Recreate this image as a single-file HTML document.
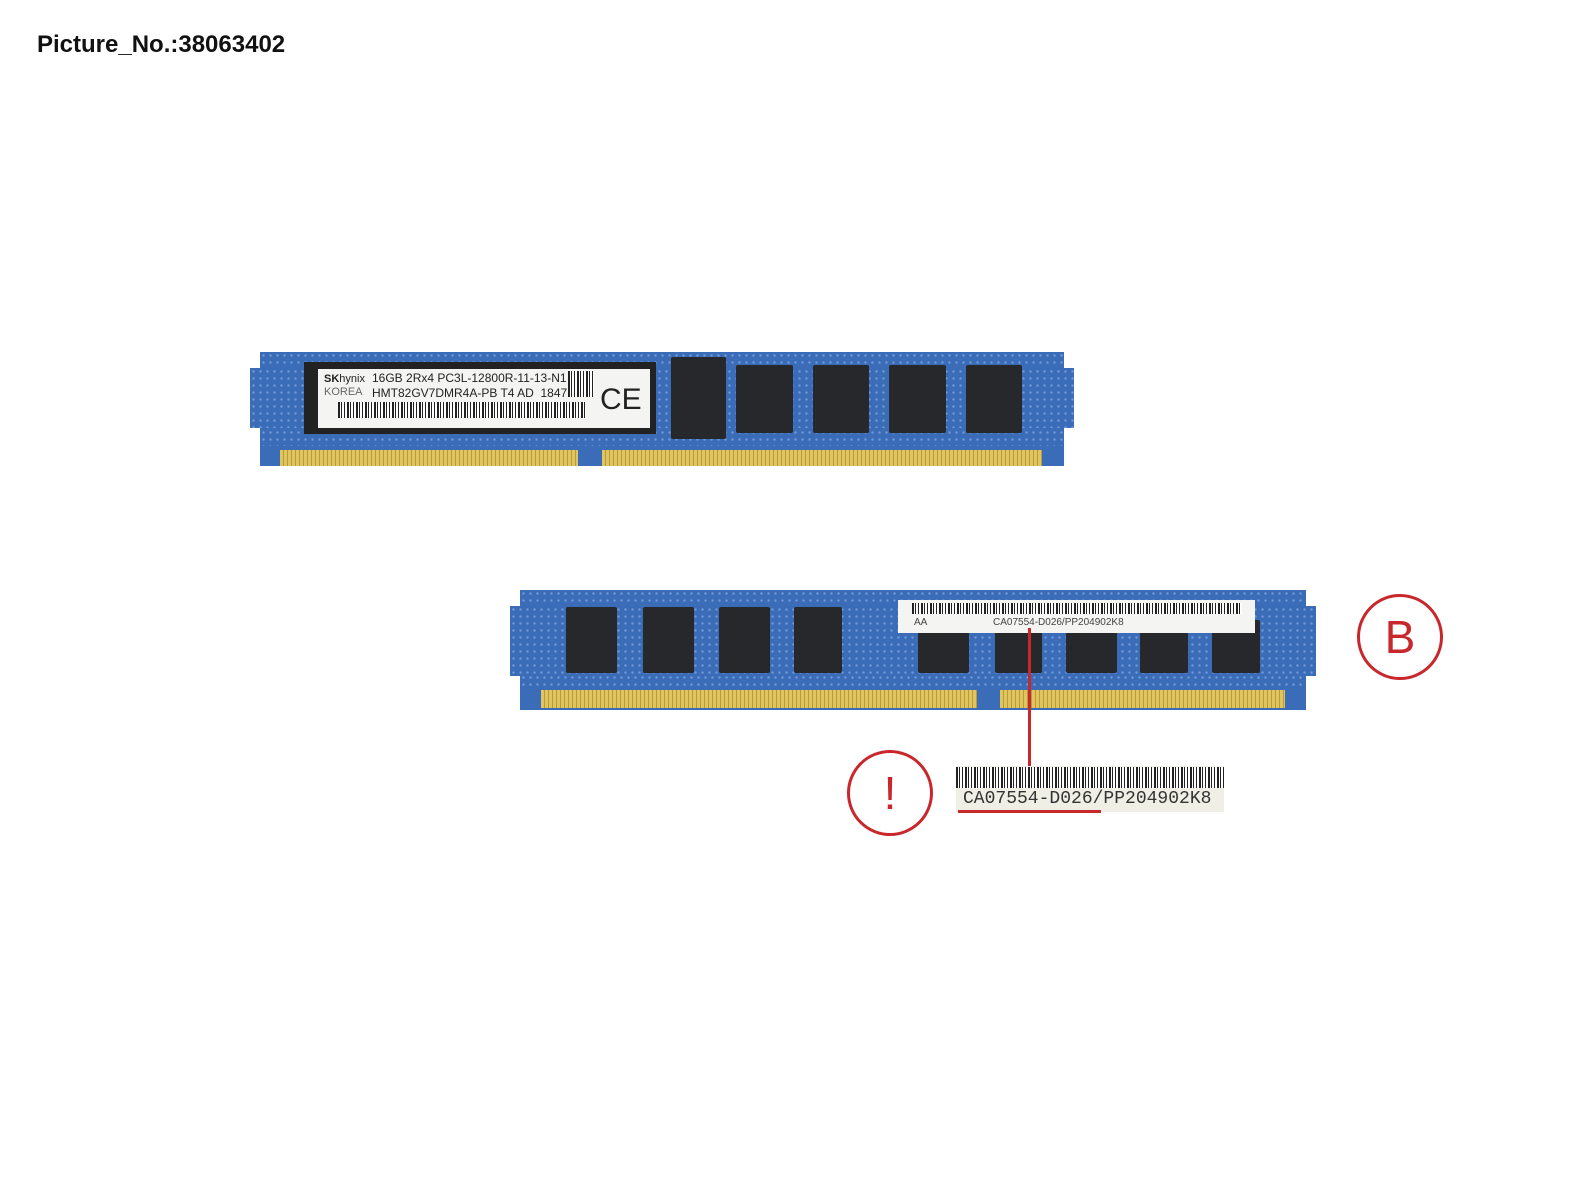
<!DOCTYPE html>
<html><head><meta charset="utf-8"><style>
body{margin:0;width:1596px;height:1198px;background:#fff;position:relative;overflow:hidden;font-family:"Liberation Sans",sans-serif}
.a{position:absolute;white-space:nowrap}
.pcb{background:#3b6cb8;background-image:radial-gradient(#6d97d6 1px,transparent 1.5px);background-size:7px 7px}
.chip{position:absolute;background:#26282b;border-radius:2px}
.gold{position:absolute;background:repeating-linear-gradient(90deg,#e0c460 0 3px,#b89c3c 3px 4px)}
.bar{background:repeating-linear-gradient(90deg,#222 0 2px,#fff 2px 3px,#222 3px 4px,#fff 4px 6px,#222 6px 7px,#fff 7px 9px)}
.circ{position:absolute;border:3px solid #c8282c;border-radius:50%;color:#c8282c;text-align:center;font-size:46px}
</style></head><body>
<div class="a" style="left:37px;top:31px;font-size:24px;font-weight:bold;color:#111">Picture_No.:38063402</div>

<!-- top module -->
<div class="a pcb" style="left:260px;top:352px;width:804px;height:100px"></div>
<div class="a pcb" style="left:250px;top:368px;width:824px;height:60px"></div>
<div class="a" style="left:260px;top:446px;width:804px;height:20px;background:#3b6cb8"></div>
<div class="a" style="left:304px;top:362px;width:352px;height:72px;background:#222"></div>
<div class="a" style="left:318px;top:369px;width:332px;height:59px;background:#f4f4f2;font-size:11px;color:#222">
<div class="a" style="left:6px;top:4px;font-weight:bold">SK<span style="font-weight:normal">hynix</span></div>
<div class="a" style="left:6px;top:17px;color:#666">KOREA</div>
<div class="a" style="left:54px;top:2px;font-size:12px">16GB 2Rx4 PC3L-12800R-11-13-N1</div>
<div class="a" style="left:54px;top:17px;font-size:12px">HMT82GV7DMR4A-PB T4 AD &nbsp;1847</div>
<div class="a bar" style="left:20px;top:33px;width:248px;height:16px"></div>
<div class="a bar" style="left:250px;top:2px;width:26px;height:26px"></div>
<div class="a" style="left:282px;top:14px;font-size:30px">CE</div>
</div>
<div class="chip" style="left:671px;top:357px;width:55px;height:82px"></div>
<div class="chip" style="left:736px;top:365px;width:57px;height:68px"></div>
<div class="chip" style="left:813px;top:365px;width:56px;height:68px"></div>
<div class="chip" style="left:889px;top:365px;width:57px;height:68px"></div>
<div class="chip" style="left:966px;top:365px;width:56px;height:68px"></div>
<div class="gold" style="left:280px;top:450px;width:298px;height:16px"></div>
<div class="gold" style="left:602px;top:450px;width:440px;height:16px"></div>

<!-- bottom module -->
<div class="a pcb" style="left:520px;top:590px;width:786px;height:110px"></div>
<div class="a pcb" style="left:510px;top:606px;width:806px;height:70px"></div>
<div class="a" style="left:520px;top:690px;width:786px;height:20px;background:#3b6cb8"></div>
<div class="chip" style="left:566px;top:607px;width:51px;height:66px"></div>
<div class="chip" style="left:643px;top:607px;width:51px;height:66px"></div>
<div class="chip" style="left:719px;top:607px;width:51px;height:66px"></div>
<div class="chip" style="left:794px;top:607px;width:48px;height:66px"></div>
<div class="chip" style="left:918px;top:620px;width:51px;height:53px"></div>
<div class="chip" style="left:995px;top:620px;width:47px;height:53px"></div>
<div class="chip" style="left:1066px;top:620px;width:51px;height:53px"></div>
<div class="chip" style="left:1140px;top:620px;width:48px;height:53px"></div>
<div class="chip" style="left:1212px;top:620px;width:48px;height:53px"></div>
<div class="a" style="left:898px;top:600px;width:357px;height:33px;background:#f4f4f2;font-size:10px;color:#444">
<div class="a bar" style="left:14px;top:3px;width:330px;height:11px"></div>
<div class="a" style="left:16px;top:17px">AA</div>
<div class="a" style="left:95px;top:17px">CA07554-D026/PP204902K8</div>
</div>
<div class="gold" style="left:541px;top:690px;width:436px;height:18px"></div>
<div class="gold" style="left:1000px;top:690px;width:285px;height:18px"></div>

<div class="a" style="left:1028px;top:628px;width:3px;height:140px;background:#c8282c"></div>
<div class="circ" style="left:1357px;top:594px;width:80px;height:80px;line-height:80px">B</div>
<div class="circ" style="left:847px;top:750px;width:80px;height:80px;line-height:80px">!</div>

<div class="a" style="left:956px;top:766px;width:268px;height:46px;background:#f0efe6">
<div class="a bar" style="left:0;top:1px;width:268px;height:21px"></div>
<div class="a" style="left:7px;top:23px;font-family:'Liberation Mono',monospace;font-size:18px;color:#333">CA07554-D026/PP204902K8</div>
</div>
<div class="a" style="left:958px;top:810px;width:143px;height:3px;background:#c8282c"></div>
</body></html>
